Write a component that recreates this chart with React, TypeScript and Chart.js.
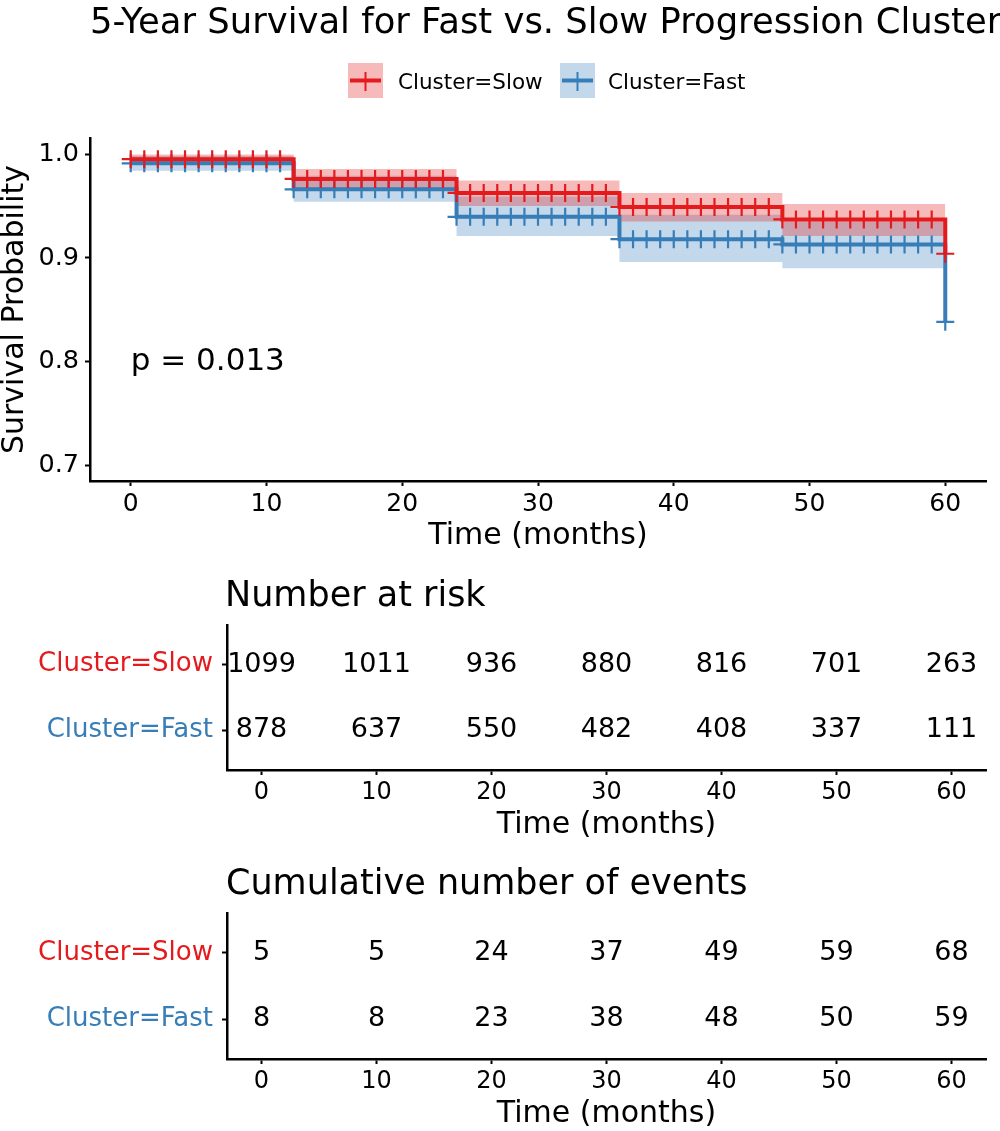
import { useEffect, useRef } from 'react';
import { Chart, registerables } from 'chart.js';
import type { ChartConfiguration, Plugin } from 'chart.js';

Chart.register(...registerables);

const FONT = '"DejaVu Sans", sans-serif';
const SLOW_COLOR = '#E41A1C';
const FAST_COLOR = '#377EB8';
const SLOW_FILL = 'rgba(228, 26, 28, 0.3)';
const FAST_FILL = 'rgba(55, 126, 184, 0.3)';

// Kaplan-Meier steps (months)
const stepTimes = [0, 12, 24, 36, 48, 60];
const slowSurv = [0.995, 0.976, 0.9625, 0.949, 0.937, 0.904];
const fastSurv = [0.991, 0.966, 0.9395, 0.918, 0.913, 0.8385];
// confidence band per interval (0-12, 12-24, 24-36, 36-48, 48-60)
const slowUpper = [0.9995, 0.9856, 0.9746, 0.9625, 0.952];
const slowLower = [0.991, 0.967, 0.95, 0.935, 0.921];
const fastUpper = [0.998, 0.979, 0.959, 0.9416, 0.935];
const fastLower = [0.984, 0.954, 0.921, 0.896, 0.89];
// censor marks ("+") at every month
const censorTimes = [
  0, 1, 2, 3, 4, 5, 6, 7, 8, 9, 10, 11, 12, 13, 14, 15, 16, 17, 18, 19, 20,
  21, 22, 23, 24, 25, 26, 27, 28, 29, 30, 31, 32, 33, 34, 35, 36, 37, 38, 39, 40,
  41, 42, 43, 44, 45, 46, 47, 48, 49, 50, 51, 52, 53, 54, 55, 56, 57, 58, 59, 60,
];

const survTicks = [0.7, 0.8, 0.9, 1.0];
const timeTicks = [0, 10, 20, 30, 40, 50, 60];
const pValueText = 'p = 0.013';

const groupNames = ['Cluster=Slow', 'Cluster=Fast'];
const groupRows = [2, 1];
const groupColors = [SLOW_COLOR, FAST_COLOR];
const slowAtRisk = [1099, 1011, 936, 880, 816, 701, 263];
const fastAtRisk = [878, 637, 550, 482, 408, 337, 111];
const slowEvents = [5, 5, 24, 37, 49, 59, 68];
const fastEvents = [8, 8, 23, 38, 48, 50, 59];

function stepValue(levels: number[], t: number) {
  let idx = 0;
  stepTimes.forEach((s, i) => {
    if (s <= t) idx = i;
  });
  return levels[idx];
}

function bandPoints(levels: number[]) {
  return stepTimes.map((t, i) => ({ x: t, y: levels[Math.min(i, levels.length - 1)] }));
}

const axisGrid = {
  drawOnChartArea: false,
  drawTicks: true,
  tickLength: 5,
  tickWidth: 2,
  tickColor: '#000',
};
const axisBorder = { display: true, color: '#000', width: 2.5 };

function timeAxis(height: number, titlePad: number, tickSize: number) {
  return {
    type: 'linear' as const,
    min: -3,
    max: 63,
    afterBuildTicks: (s: any) => {
      s.ticks = timeTicks.map((v) => ({ value: v }));
    },
    afterFit: (s: any) => {
      s.height = height;
    },
    grid: axisGrid,
    border: axisBorder,
    ticks: {
      color: '#000',
      font: { family: FONT, size: tickSize },
      padding: 3,
      maxRotation: 0,
      autoSkip: false,
      callback: (v: any) => String(v),
    },
    title: {
      display: true,
      text: 'Time (months)',
      color: '#000',
      font: { family: FONT, size: 30, lineHeight: 1 },
      padding: { top: 0, bottom: titlePad },
    },
  };
}

const survivalDecor: Plugin = {
  id: 'survivalDecor',
  afterDraw(chart) {
    const { ctx } = chart;
    const x = chart.scales.x;
    const y = chart.scales.y;
    ctx.save();
    ctx.fillStyle = '#000';
    ctx.textBaseline = 'alphabetic';
    ctx.textAlign = 'left';
    ctx.font = `35.4px ${FONT}`;
    ctx.fillText('5-Year Survival for Fast vs. Slow Progression Cluster', 90, 33);

    // legend keys
    const keys = [
      { left: 348, textX: 398, name: groupNames[0], line: SLOW_COLOR, fill: SLOW_FILL },
      { left: 560, textX: 608, name: groupNames[1], line: FAST_COLOR, fill: FAST_FILL },
    ];
    keys.forEach((k) => {
      ctx.fillStyle = k.fill;
      ctx.fillRect(k.left, 63, 35, 35);
      ctx.strokeStyle = k.line;
      ctx.lineWidth = 4;
      ctx.beginPath();
      ctx.moveTo(k.left + 2, 80.5);
      ctx.lineTo(k.left + 33, 80.5);
      ctx.stroke();
      ctx.lineWidth = 2;
      ctx.beginPath();
      ctx.moveTo(k.left + 17.5, 72);
      ctx.lineTo(k.left + 17.5, 91);
      ctx.stroke();
      ctx.fillStyle = '#000';
      ctx.font = `21.5px ${FONT}`;
      ctx.fillText(k.name, k.textX, 89);
    });

    // p-value
    ctx.font = `31px ${FONT}`;
    ctx.textBaseline = 'middle';
    ctx.fillText(pValueText, x.getPixelForValue(0), y.getPixelForValue(0.8));
    ctx.restore();
  },
};

function makeSurvivalConfig(): ChartConfiguration {
  const lineStyle = (color: string) => ({
    borderColor: color,
    backgroundColor: color,
    borderWidth: 4,
    stepped: 'before' as const,
    pointStyle: 'cross' as const,
    pointRadius: 9,
    pointBorderWidth: 2.2,
    pointBorderColor: color,
    fill: false,
  });
  const band = (levels: number[], fill: string, order: number, fillTo: any) => ({
    data: bandPoints(levels),
    stepped: 'before' as const,
    borderWidth: 0,
    pointRadius: 0,
    backgroundColor: fill,
    borderColor: 'rgba(0,0,0,0)',
    fill: fillTo,
    order,
  });
  return {
    type: 'line',
    data: {
      datasets: [
        {
          label: groupNames[0],
          data: censorTimes.map((t) => ({ x: t, y: stepValue(slowSurv, t) })),
          order: 0,
          ...lineStyle(SLOW_COLOR),
        },
        {
          label: groupNames[1],
          data: censorTimes.map((t) => ({ x: t, y: stepValue(fastSurv, t) })),
          order: 1,
          ...lineStyle(FAST_COLOR),
        },
        band(slowUpper, SLOW_FILL, 2, false),
        band(slowLower, SLOW_FILL, 3, '-1'),
        band(fastUpper, FAST_FILL, 4, false),
        band(fastLower, FAST_FILL, 5, '-1'),
      ] as any,
    },
    options: {
      responsive: false,
      animation: false,
      events: [],
      layout: { padding: { top: 138, right: 14, left: 0, bottom: 0 } },
      plugins: { legend: { display: false }, tooltip: { enabled: false } },
      scales: {
        x: timeAxis(79, 9, 25),
        y: {
          type: 'linear',
          min: 0.6853,
          max: 1.0154,
          afterBuildTicks: (s: any) => {
            s.ticks = survTicks.map((v) => ({ value: v }));
          },
          afterFit: (s: any) => {
            s.width = 90;
          },
          grid: axisGrid,
          border: axisBorder,
          ticks: {
            color: '#000',
            font: { family: FONT, size: 25.5 },
            padding: 6,
            callback: (v: any) => Number(v).toFixed(1),
          },
          title: {
            display: true,
            text: 'Survival Probability',
            color: '#000',
            font: { family: FONT, size: 30, lineHeight: 1 },
            padding: 0,
          },
        },
      },
    },
    plugins: [survivalDecor],
  } as ChartConfiguration;
}

function makeTablePlugin(title: string, titleX: number, titleY: number, rows: number[][]): Plugin {
  return {
    id: 'tableText',
    afterDraw(chart) {
      const { ctx } = chart;
      const x = chart.scales.x;
      const y = chart.scales.y;
      ctx.save();
      ctx.fillStyle = '#000';
      ctx.textAlign = 'left';
      ctx.textBaseline = 'alphabetic';
      ctx.font = `35px ${FONT}`;
      ctx.fillText(title, titleX, titleY);
      ctx.font = `27px ${FONT}`;
      ctx.textAlign = 'center';
      ctx.textBaseline = 'middle';
      rows.forEach((vals, r) => {
        vals.forEach((v, i) => {
          ctx.fillText(String(v), x.getPixelForValue(timeTicks[i]), y.getPixelForValue(groupRows[r]));
        });
      });
      ctx.restore();
    },
  };
}

function makeTableConfig(
  axisHeight: number,
  padTop: number,
  titlePad: number,
  plugin: Plugin,
): ChartConfiguration {
  return {
    type: 'scatter',
    data: { datasets: [] },
    options: {
      responsive: false,
      animation: false,
      events: [],
      layout: { padding: { top: padTop, right: 14, left: 0, bottom: 0 } },
      plugins: { legend: { display: false }, tooltip: { enabled: false } },
      scales: {
        x: timeAxis(axisHeight, titlePad, 24),
        y: {
          type: 'linear',
          min: 0.4,
          max: 2.6,
          afterBuildTicks: (s: any) => {
            s.ticks = groupRows.map((v) => ({ value: v }));
          },
          afterFit: (s: any) => {
            s.width = 227;
          },
          grid: axisGrid,
          border: axisBorder,
          ticks: {
            font: { family: FONT, size: 26 },
            padding: 9,
            color: (c: any) => groupColors[groupRows.indexOf(c.tick?.value)] ?? '#000',
            callback: (v: any) => groupNames[groupRows.indexOf(Number(v))],
          },
        },
      },
    },
    plugins: [plugin],
  } as ChartConfiguration;
}

function ChartCanvas({
  top,
  height,
  makeConfig,
}: {
  top: number;
  height: number;
  makeConfig: () => ChartConfiguration;
}) {
  const canvasRef = useRef<HTMLCanvasElement>(null);
  const chartInstance = useRef<Chart | null>(null);

  useEffect(() => {
    if (!canvasRef.current) return;
    if (chartInstance.current) chartInstance.current.destroy();
    chartInstance.current = new Chart(canvasRef.current, makeConfig());
    return () => {
      if (chartInstance.current) {
        chartInstance.current.destroy();
        chartInstance.current = null;
      }
    };
  }, [makeConfig]);

  return (
    <canvas
      ref={canvasRef}
      width={1000}
      height={height}
      style={{ position: 'absolute', left: 0, top, width: 1000, height, display: 'block' }}
    />
  );
}

const riskConfig = () =>
  makeTableConfig(75, 65, 5, makeTablePlugin('Number at risk', 225, 46, [slowAtRisk, fastAtRisk]));
const eventsConfig = () =>
  makeTableConfig(
    72,
    68,
    2,
    makeTablePlugin('Cumulative number of events', 226, 49, [slowEvents, fastEvents]),
  );

export default function App() {
  return (
    <div
      style={{
        position: 'absolute',
        left: 0,
        top: 0,
        width: 1000,
        height: 1131,
        background: '#fff',
        overflow: 'hidden',
      }}
    >
      <ChartCanvas top={0} height={560} makeConfig={makeSurvivalConfig} />
      <ChartCanvas top={560} height={285} makeConfig={riskConfig} />
      <ChartCanvas top={845} height={286} makeConfig={eventsConfig} />
    </div>
  );
}
